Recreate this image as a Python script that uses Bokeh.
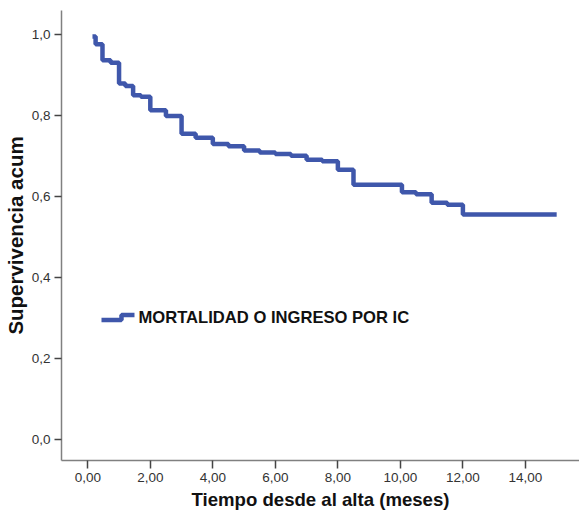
from bokeh.plotting import figure
from bokeh.models import Range1d, FixedTicker, Label
from bokeh.embed import file_html
from bokeh.resources import INLINE

# ---- data ----
times = [0.15, 0.25, 0.47, 0.73, 1.0, 1.2, 1.45, 1.7, 2.0, 2.5, 3.0, 3.45, 4.0,
         4.5, 5.0, 5.5, 6.0, 6.5, 7.0, 7.5, 8.0, 8.5, 10.05, 10.5, 11.0, 11.5,
         12.0, 15.0]
survival = [0.994, 0.975, 0.935, 0.929, 0.878, 0.872, 0.849, 0.845, 0.812,
            0.798, 0.754, 0.744, 0.729, 0.723, 0.713, 0.708, 0.704, 0.700,
            0.690, 0.686, 0.665, 0.628, 0.610, 0.605, 0.584, 0.579, 0.555,
            0.555]
series_name = "MORTALIDAD O INGRESO POR IC"
x_ticks = [0, 2, 4, 6, 8, 10, 12, 14]
x_tick_labels = ["0,00", "2,00", "4,00", "6,00", "8,00", "10,00", "12,00", "14,00"]
y_ticks = [0.0, 0.2, 0.4, 0.6, 0.8, 1.0]
y_tick_labels = ["0,0", "0,2", "0,4", "0,6", "0,8", "1,0"]
x_title = "Tiempo desde al alta (meses)"
y_title = "Supervivencia acum"

LINE_COLOR = "#3F57AB"

p = figure(width=579, height=516, output_backend="svg", toolbar_location=None,
           x_range=Range1d(-0.841, 15.73), y_range=Range1d(-0.0518, 1.058),
           min_border_left=61, min_border_right=0, min_border_top=10,
           min_border_bottom=56)
p.outline_line_color = None
p.xgrid.visible = False
p.ygrid.visible = False
p.background_fill_color = "white"
p.border_fill_color = "white"

p.step(times, survival, mode="after", line_color=LINE_COLOR, line_width=4.5)

# axes
for ax in (p.xaxis[0], p.yaxis[0]):
    ax.axis_line_color = "#808080"
    ax.axis_line_width = 1.5
    ax.major_tick_line_color = "#444444"
    ax.major_tick_line_width = 1.5
    ax.major_tick_in = 0
    ax.minor_tick_line_color = None
    ax.major_label_text_font = "Liberation Sans"
    ax.major_label_text_font_size = "13.5px"
    ax.major_label_text_color = "#333333"
    ax.axis_label_text_font = "Liberation Sans"
    ax.axis_label_text_font_style = "bold"
    ax.axis_label_text_color = "#111111"

p.xaxis[0].ticker = FixedTicker(ticks=x_ticks)
p.xaxis[0].major_label_overrides = {t: l for t, l in zip(x_ticks, x_tick_labels)}
p.xaxis[0].major_tick_out = 8
p.xaxis[0].major_label_standoff = 4
p.xaxis[0].axis_label = x_title
p.xaxis[0].axis_label_text_font_size = "18.6px"
p.xaxis[0].axis_label_standoff = 4

p.yaxis[0].ticker = FixedTicker(ticks=y_ticks)
p.yaxis[0].major_label_overrides = {t: l for t, l in zip(y_ticks, y_tick_labels)}
p.yaxis[0].major_tick_out = 7
p.yaxis[0].major_label_standoff = 4
p.yaxis[0].axis_label = y_title
p.yaxis[0].axis_label_text_font_size = "20.5px"
p.yaxis[0].axis_label_standoff = 2

# legend (inside plot, drawn as a stepped icon + text)
X0, XS = 87.3, 31.26      # pixel of x=0, pixels per unit
Y0, YS = 439.0, 405.5     # pixel of y=0, pixels per unit
def dx(px):
    return (px - X0) / XS
def dy(py):
    return (Y0 - py) / YS

icon_x = [dx(101), dx(121), dx(134)]
icon_y = [dy(319.5), dy(314.5), dy(314.5)]
p.step(icon_x, icon_y, mode="after", line_color=LINE_COLOR, line_width=4.5)

p.add_layout(Label(x=dx(138), y=dy(316.5), text=series_name,
                   text_font="Liberation Sans", text_font_style="bold",
                   text_font_size="16.6px", text_color="#111111",
                   text_baseline="middle", text_align="left"))

open("out.html", "w").write(file_html(p, INLINE))
